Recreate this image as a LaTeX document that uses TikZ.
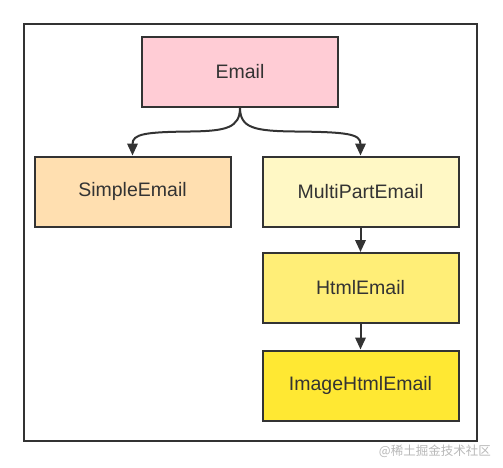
\documentclass[tikz,border=0pt]{standalone}
\usepackage{fontspec}
\setmainfont{Liberation Sans}
\newfontfamily\cjk{Noto Sans CJK SC}
\usetikzlibrary{arrows.meta}
\definecolor{linec}{HTML}{333333}
\definecolor{cEmail}{HTML}{FFCCD5}
\definecolor{cSimple}{HTML}{FFDFB0}
\definecolor{cMulti}{HTML}{FFF8C5}
\definecolor{cHtml}{HTML}{FFEE77}
\definecolor{cImage}{HTML}{FFE833}
\begin{document}
\begin{tikzpicture}[x=1pt,y=-1pt,
  box/.style={draw=linec, line width=2pt, minimum width=196pt, minimum height=70pt, inner sep=0pt,
    font=\fontsize{19.5}{22}\selectfont, text=linec},
  conn/.style={draw=linec, line width=2pt, -{Triangle[length=12pt,width=10.5pt]}},
  frame/.style={draw=linec, line width=2pt}]
\useasboundingbox (0,0) rectangle (503,467);
\draw[frame] (24,24) rectangle (476.5,441);
\node[box, fill=cEmail]  (e) at (240,71.5)   {Email};
\node[box, fill=cSimple] (s) at (132.5,191.5) {SimpleEmail};
\node[box, fill=cMulti]  (m) at (360.5,191.5) {MultiPartEmail};
\node[box, fill=cHtml]   (h) at (360.5,288)   {HtmlEmail};
\node[box, fill=cImage]  (i) at (360.5,385.5) {ImageHtmlEmail};
\draw[conn] (e.south) .. controls (240,128) and (226,131) .. (190,131.5)
   .. controls (145,132) and (132.5,134) .. (s.north);
\draw[conn] (e.south) .. controls (240,128) and (254,131) .. (295,131.5)
   .. controls (348,132) and (360.5,134) .. (m.north);
\draw[conn] (m.south) -- (h.north);
\draw[conn] (h.south) -- (i.north);
\node[anchor=east, text=black!28, font=\cjk\fontsize{12.5}{14}\selectfont, inner sep=0pt] (wm) at (491,451) {@稀土掘金技术社区};
\end{tikzpicture}
\end{document}
